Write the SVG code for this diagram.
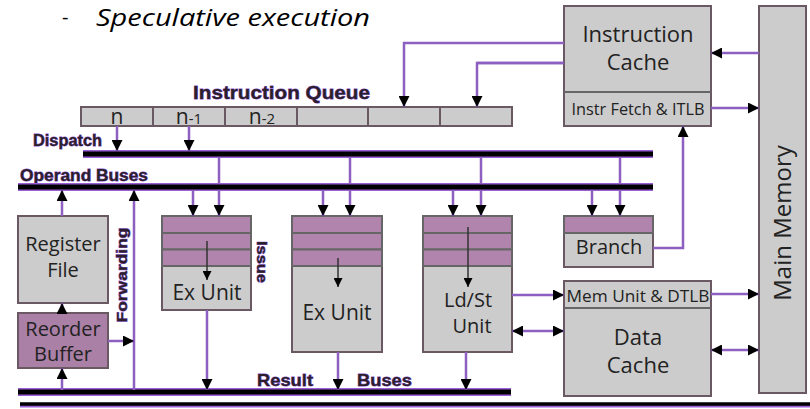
<svg xmlns="http://www.w3.org/2000/svg" width="810" height="409" viewBox="0 0 810 409">
  <defs>
    <marker id="ah" viewBox="0 0 10 10" refX="10" refY="5" markerWidth="11" markerHeight="11" markerUnits="userSpaceOnUse" orient="auto-start-reverse">
      <path d="M0,0 L10,5 L0,10 z" fill="#000"/>
    </marker>
    <marker id="ahs" viewBox="0 0 10 10" refX="10" refY="5" markerWidth="9" markerHeight="9" markerUnits="userSpaceOnUse" orient="auto">
      <path d="M0,0 L10,5 L0,10 z" fill="#000"/>
    </marker>
  </defs>
  <style>
    .box{fill:#cccccc;stroke:#6a5862;stroke-width:2}
    .rs{fill:#b184ad;stroke:#666;stroke-width:2}
    .sep{stroke:#666;stroke-width:2}
    .wire{stroke:#8d5fc0;stroke-width:2.5;fill:none}
    .inner{stroke:#333;stroke-width:1.5;fill:none}
    .busedge{stroke:#9a5fd6;stroke-width:8;fill:none}
    .bus{stroke:#000;stroke-width:5;fill:none}
    .lbl{font-family:'Open Sans',sans-serif;fill:#222;text-anchor:middle}
    .tag{font-family:'Liberation Sans',sans-serif;font-weight:bold;fill:#2a1f2a;stroke:#8a4fd0;stroke-width:0.8;paint-order:stroke}
  </style>

  <!-- heading -->
  <text x="62" y="24" font-family="'Open Sans',sans-serif" font-size="20" fill="#000">-</text>
  <text x="96" y="26" font-family="'Open Sans',sans-serif" font-style="italic" font-weight="500" font-size="24" fill="#000" textLength="274" lengthAdjust="spacingAndGlyphs">Speculative execution</text>

  <!-- bus labels -->
  <text class="tag" x="193" y="99" font-size="19" textLength="177" lengthAdjust="spacingAndGlyphs">Instruction Queue</text>
  <text class="tag" x="33" y="146" font-size="16" textLength="69" lengthAdjust="spacingAndGlyphs">Dispatch</text>
  <text class="tag" x="20" y="181" font-size="16" textLength="128" lengthAdjust="spacingAndGlyphs">Operand Buses</text>
  <text class="tag" x="257" y="386" font-size="17" textLength="56" lengthAdjust="spacingAndGlyphs">Result</text>
  <text class="tag" x="357" y="386" font-size="17" textLength="55" lengthAdjust="spacingAndGlyphs">Buses</text>
  <text class="tag" font-size="14" textLength="95" lengthAdjust="spacingAndGlyphs" text-anchor="middle" transform="translate(127,275) rotate(-90)">Forwarding</text>
  <text class="tag" font-size="14" textLength="42" lengthAdjust="spacingAndGlyphs" text-anchor="middle" transform="translate(257,262) rotate(90)">Issue</text>

  <!-- instruction queue -->
  <g id="instruction-queue">
    <rect class="box" x="81" y="107" width="72" height="19" stroke-width="1.5"/>
    <rect class="box" x="153" y="107" width="72" height="19" stroke-width="1.5"/>
    <rect class="box" x="225" y="107" width="72" height="19" stroke-width="1.5"/>
    <rect class="box" x="297" y="107" width="71" height="19" stroke-width="1.5"/>
    <rect class="box" x="368" y="107" width="72" height="19" stroke-width="1.5"/>
    <rect class="box" x="440" y="107" width="72" height="19" stroke-width="1.5"/>
    <text class="lbl" x="117" y="124" font-size="21">n</text>
    <text class="lbl" x="189" y="124" font-size="21">n<tspan font-size="15">-1</tspan></text>
    <text class="lbl" x="262" y="124" font-size="21">n<tspan font-size="15">-2</tspan></text>
  </g>

  <g id="instruction-cache">
    <rect class="box" x="564" y="6" width="147" height="120"/>
    <line class="sep" x1="564" y1="92" x2="711" y2="92"/>
    <text class="lbl" x="638" y="42" font-size="22">Instruction</text>
    <text class="lbl" x="638" y="70" font-size="22">Cache</text>
    <text class="lbl" x="638" y="115" font-size="16" textLength="133" lengthAdjust="spacingAndGlyphs">Instr Fetch &amp; ITLB</text>
  </g>

  <g id="main-memory">
    <rect class="box" x="759" y="6" width="47" height="387"/>
    <text class="lbl" font-size="24" transform="translate(791,223) rotate(-90)">Main Memory</text>
  </g>

  <g id="register-file">
    <rect class="box" x="18" y="216" width="90" height="87"/>
    <text class="lbl" x="63" y="251" font-size="20">Register</text>
    <text class="lbl" x="63" y="277" font-size="20">File</text>
  </g>

  <g id="reorder-buffer">
    <rect class="box" x="18" y="313" width="90" height="55" style="fill:#ab80a6"/>
    <text class="lbl" x="63" y="336" font-size="20">Reorder</text>
    <text class="lbl" x="63" y="361" font-size="20">Buffer</text>
  </g>

  <g id="ex-unit-1">
    <rect class="box" x="162" y="216" width="89" height="94"/>
    <rect class="rs" x="162" y="216" width="89" height="17"/>
    <rect class="rs" x="162" y="233" width="89" height="16.5"/>
    <rect class="rs" x="162" y="249.5" width="89" height="16.5"/>
    <line class="inner" x1="207" y1="241" x2="207" y2="280" marker-end="url(#ahs)"/>
    <text class="lbl" x="207" y="300" font-size="21">Ex Unit</text>
  </g>

  <g id="ex-unit-2">
    <rect class="box" x="292" y="216" width="90" height="136"/>
    <rect class="rs" x="292" y="216" width="90" height="17"/>
    <rect class="rs" x="292" y="233" width="90" height="16.5"/>
    <rect class="rs" x="292" y="249.5" width="90" height="16.5"/>
    <line class="inner" x1="338" y1="258" x2="338" y2="287" marker-end="url(#ahs)"/>
    <text class="lbl" x="337" y="320" font-size="21">Ex Unit</text>
  </g>

  <g id="ld-st-unit">
    <rect class="box" x="423" y="216" width="89" height="136"/>
    <rect class="rs" x="423" y="216" width="89" height="17"/>
    <rect class="rs" x="423" y="233" width="89" height="16.5"/>
    <rect class="rs" x="423" y="249.5" width="89" height="16.5"/>
    <line class="inner" x1="468" y1="227" x2="468" y2="287" marker-end="url(#ahs)"/>
    <text class="lbl" x="468" y="307" font-size="20">Ld/St</text>
    <text class="lbl" x="472" y="333" font-size="20">Unit</text>
  </g>

  <g id="branch">
    <rect class="box" x="564" y="216" width="89" height="51"/>
    <rect class="rs" x="564" y="216" width="89" height="17"/>
    <text class="lbl" x="609" y="254" font-size="20">Branch</text>
  </g>

  <g id="data-cache">
    <rect class="box" x="564" y="281" width="147" height="115"/>
    <line class="sep" x1="564" y1="308" x2="711" y2="308"/>
    <text class="lbl" x="638" y="302" font-size="17" textLength="143" lengthAdjust="spacingAndGlyphs">Mem Unit &amp; DTLB</text>
    <text class="lbl" x="638" y="345" font-size="22">Data</text>
    <text class="lbl" x="638" y="373" font-size="22">Cache</text>
  </g>

  <g id="connectors">
    <!-- buses -->
    <line class="busedge" x1="83" y1="154" x2="653" y2="154"/>
    <line class="bus" x1="83" y1="154" x2="653" y2="154"/>
    <line class="busedge" x1="18" y1="187" x2="653" y2="187"/>
    <line class="bus" x1="18" y1="187" x2="653" y2="187" stroke-width="6"/>
    <line class="busedge" x1="18" y1="392" x2="511" y2="392"/>
    <line class="bus" x1="18" y1="392" x2="511" y2="392" stroke-width="6"/>
    <line x1="20" y1="406" x2="810" y2="406" stroke="#9a5fd6" stroke-width="3"/>
    <line x1="20" y1="404" x2="810" y2="404" stroke="#000" stroke-width="3.5"/>

    <!-- instruction cache to queue -->
    <polyline class="wire" points="564,43 404,43 404,107" marker-end="url(#ah)"/>
    <polyline class="wire" points="564,63 477,63 477,107" marker-end="url(#ah)"/>
    <line class="wire" x1="564" y1="63" x2="477" y2="63" stroke-width="4.5"/>
    <line class="wire" x1="759" y1="53" x2="711" y2="53" stroke-width="3.5" marker-end="url(#ah)"/>
    <line class="wire" x1="711" y1="108" x2="759" y2="108" stroke-width="3.5" marker-end="url(#ah)"/>

    <!-- queue to dispatch -->
    <line class="wire" x1="117" y1="126" x2="117" y2="151" marker-end="url(#ah)"/>
    <line class="wire" x1="189" y1="126" x2="189" y2="151" marker-end="url(#ah)"/>

    <!-- dispatch to operand buses -->
    <line class="wire" x1="219" y1="157" x2="219" y2="184"/>
    <line class="wire" x1="350" y1="157" x2="350" y2="184"/>
    <line class="wire" x1="481" y1="157" x2="481" y2="184"/>
    <line class="wire" x1="620" y1="157" x2="620" y2="184"/>

    <!-- operand buses to reservation stations -->
    <line class="wire" x1="193" y1="190" x2="193" y2="216" marker-end="url(#ah)"/>
    <line class="wire" x1="219" y1="190" x2="219" y2="216" marker-end="url(#ah)"/>
    <line class="wire" x1="323" y1="190" x2="323" y2="216" marker-end="url(#ah)"/>
    <line class="wire" x1="350" y1="190" x2="350" y2="216" marker-end="url(#ah)"/>
    <line class="wire" x1="453" y1="190" x2="453" y2="216" marker-end="url(#ah)"/>
    <line class="wire" x1="481" y1="190" x2="481" y2="216" marker-end="url(#ah)"/>
    <line class="wire" x1="592" y1="190" x2="592" y2="216" marker-end="url(#ah)"/>
    <line class="wire" x1="620" y1="190" x2="620" y2="216" marker-end="url(#ah)"/>

    <!-- register file / reorder buffer / forwarding -->
    <line class="wire" x1="62" y1="216" x2="62" y2="190" marker-end="url(#ah)"/>
    <line class="wire" x1="62" y1="313" x2="62" y2="303" marker-end="url(#ah)"/>
    <line class="wire" x1="62" y1="390" x2="62" y2="368" marker-end="url(#ah)"/>
    <line class="wire" x1="134" y1="390" x2="134" y2="190" marker-end="url(#ah)"/>
    <line class="wire" x1="108" y1="341" x2="134" y2="341" marker-end="url(#ah)"/>

    <!-- units to result buses -->
    <line class="wire" x1="207" y1="310" x2="207" y2="390" marker-end="url(#ah)"/>
    <line class="wire" x1="338" y1="352" x2="338" y2="390" marker-end="url(#ah)"/>
    <line class="wire" x1="466" y1="352" x2="466" y2="390" marker-end="url(#ah)"/>

    <!-- branch to fetch -->
    <polyline class="wire" points="653,248 683,248 683,126" marker-end="url(#ah)"/>

    <!-- load/store paths -->
    <line class="wire" x1="512" y1="295" x2="564" y2="295" stroke-width="3.5" marker-end="url(#ah)"/>
    <line class="wire" x1="512" y1="331" x2="564" y2="331" stroke-width="3.5" marker-start="url(#ah)" marker-end="url(#ah)"/>
    <line class="wire" x1="711" y1="294" x2="759" y2="294" stroke-width="3.5" marker-end="url(#ah)"/>
    <line class="wire" x1="711" y1="350" x2="759" y2="350" stroke-width="3.5" marker-start="url(#ah)" marker-end="url(#ah)"/>
  </g>
</svg>
